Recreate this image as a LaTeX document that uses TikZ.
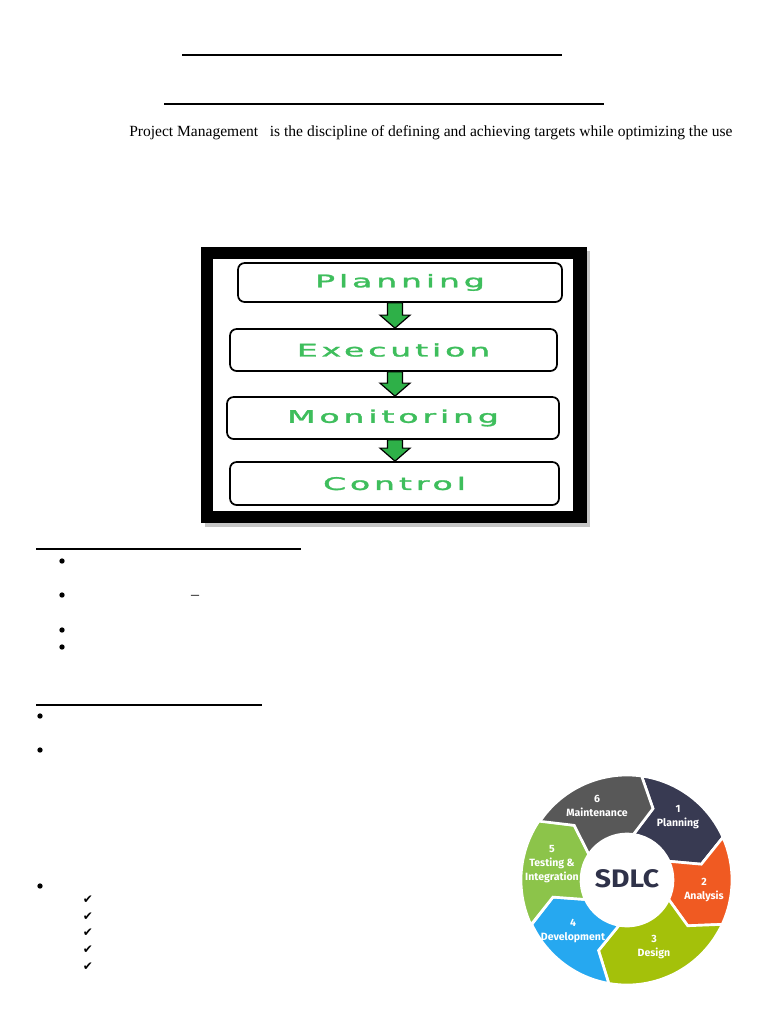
\documentclass[tikz,border=0pt]{standalone}
\usepackage{graphicx}
\usepackage{fontspec}
\setmainfont{Liberation Serif}
\newfontfamily\flowfont[LetterSpace=12, FakeBold=1.5]{DejaVu Sans}
\newfontfamily\ringfont{Fira Sans}
\newfontfamily\symfont{DejaVu Sans}
\usetikzlibrary{calc}
\definecolor{flowgreen}{RGB}{46,176,72}
\definecolor{flowtext}{RGB}{62,190,92}
\definecolor{planc}{RGB}{56,58,82}
\definecolor{anac}{RGB}{240,90,34}
\definecolor{desc}{RGB}{164,193,10}
\definecolor{devc}{RGB}{38,168,240}
\definecolor{testc}{RGB}{140,196,74}
\definecolor{maintc}{RGB}{88,88,88}
\definecolor{sdlcc}{RGB}{47,50,73}
\tikzset{
  flowbox/.style={draw, line width=1.3pt, rounded corners=5pt, inner sep=0pt, fill=white,
    text=flowtext, font=\flowfont\fontsize{13}{13}\selectfont},
  bigarrow/.style={fill=flowgreen, draw=black, line width=0.9pt},
  ringpart/.style={draw=white, line width=2pt},
  ringlabel/.style={text=white, align=center, inner sep=0pt, font=\ringfont\bfseries\fontsize{7.9}{10.5}\selectfont},
  dot/.style={circle, fill=black, inner sep=0pt, minimum size=4pt},
  tick/.style={inner sep=0pt, font=\symfont\fontsize{9}{9}\selectfont},
  rule/.style={line width=1.5pt}
}
\newcommand\flowarrow[2]{\draw[bigarrow] (#2.north -| ax) -- ++(15,-13) -- ++(-7.5,0) |- (#1.south -| ax) -- ++(-7.5,0) |- ($(#2.north -| ax)+(-15,-13)$) -- cycle;}
\begin{document}
\begin{tikzpicture}[x=0.75pt,y=-0.75pt]
  \useasboundingbox (0,0) rectangle (768,1024);

  \draw[rule] (182,55) -- (562,55);
  \draw[rule] (164,104) -- (604,104);
  \node[anchor=base west, inner sep=0pt, font=\fontsize{11.65}{14}\selectfont] (intro) at (129,136)
    {Project Management\ \ \ is the discipline of defining and achieving targets while optimizing the use};

  \fill[gray!45] (205,251) rectangle (590,527);
  \fill[black] (201,247) rectangle (587,523);
  \fill[white] (213,259) rectangle (573,511);
  \coordinate (ax) at (395,0);
  \node[flowbox, minimum width=243pt, minimum height=29.25pt] (plan) at (400,282.5) {\scalebox{1.9}[1]{Planning}};
  \node[flowbox, minimum width=245.25pt, minimum height=31.5pt] (exec) at (393.5,350) {\scalebox{1.9}[1]{Execution}};
  \node[flowbox, minimum width=249pt, minimum height=31.5pt] (moni) at (393,418) {\scalebox{1.9}[1]{Monitoring}};
  \node[flowbox, minimum width=246.75pt, minimum height=32.25pt] (ctrl) at (394.5,483.5) {\scalebox{1.9}[1]{Control}};
  \flowarrow{plan}{exec}
  \flowarrow{exec}{moni}
  \flowarrow{moni}{ctrl}

  \draw[line width=1.2pt] (36,549) -- (301,549);
  \node[dot] (b1) at (62,561) {};
  \node[dot] (b2) at (62,595) {};
  \node[inner sep=0pt, font=\fontsize{12}{14}\selectfont] (dash) at (195,597) {–};
  \node[dot] (b3) at (62,630) {};
  \node[dot] (b4) at (62,647) {};

  \draw[line width=1.2pt] (36,705) -- (262,705);
  \node[dot] (b5) at (40,716) {};
  \node[dot] (b6) at (40,750) {};
  \node[dot] (b7) at (40,886) {};
  \node[tick] (t1) at (88,900) {✔};
  \node[tick] (t2) at (88,917) {✔};
  \node[tick] (t3) at (88,933) {✔};
  \node[tick] (t4) at (88,950) {✔};
  \node[tick] (t5) at (88,967) {✔};

  \begin{scope}[shift={(627,880)}, y=0.75pt]
    \fill[planc, ringpart] (82:105) arc[start angle=82, end angle=24, radius=105] -- (12:76) -- (24:46) arc[start angle=24, end angle=82, radius=46] -- (70:76) -- cycle;
    \fill[anac, ringpart] (24:105) arc[start angle=24, end angle=-25, radius=105] -- (-37:76) -- (-25:46) arc[start angle=-25, end angle=24, radius=46] -- (12:76) -- cycle;
    \fill[desc, ringpart] (-25:105) arc[start angle=-25, end angle=-100, radius=105] -- (-112:76) -- (-100:46) arc[start angle=-100, end angle=-25, radius=46] -- (-37:76) -- cycle;
    \fill[devc, ringpart] (-100:105) arc[start angle=-100, end angle=-155, radius=105] -- (-167:76) -- (-155:46) arc[start angle=-155, end angle=-100, radius=46] -- (-112:76) -- cycle;
    \fill[testc, ringpart] (-155:106) arc[start angle=-155, end angle=-214, radius=106] -- (-226:76) -- (-214:46) arc[start angle=-214, end angle=-155, radius=46] -- (-167:76) -- cycle;
    \fill[maintc, ringpart] (-214:105) arc[start angle=-214, end angle=-278, radius=105] -- (-290:76) -- (-278:46) arc[start angle=-278, end angle=-214, radius=46] -- (-226:76) -- cycle;
  \end{scope}
  \node[inner sep=0pt, text=sdlcc, font=\ringfont\bfseries\fontsize{19}{19}\selectfont] (sdlc) at (627,879) {\scalebox{1.12}[1]{SDLC}};
  \node[ringlabel] (l1) at (678,817) {1\\Planning};
  \node[ringlabel] (l2) at (704,890) {2\\Analysis};
  \node[ringlabel] (l3) at (654,947) {3\\Design};
  \node[ringlabel] (l4) at (573,931) {4\\Development};
  \node[ringlabel] (l5) at (552,864) {5\\Testing \&\\Integration};
  \node[ringlabel] (l6) at (597,806) {6\\Maintenance};
\end{tikzpicture}
\end{document}
